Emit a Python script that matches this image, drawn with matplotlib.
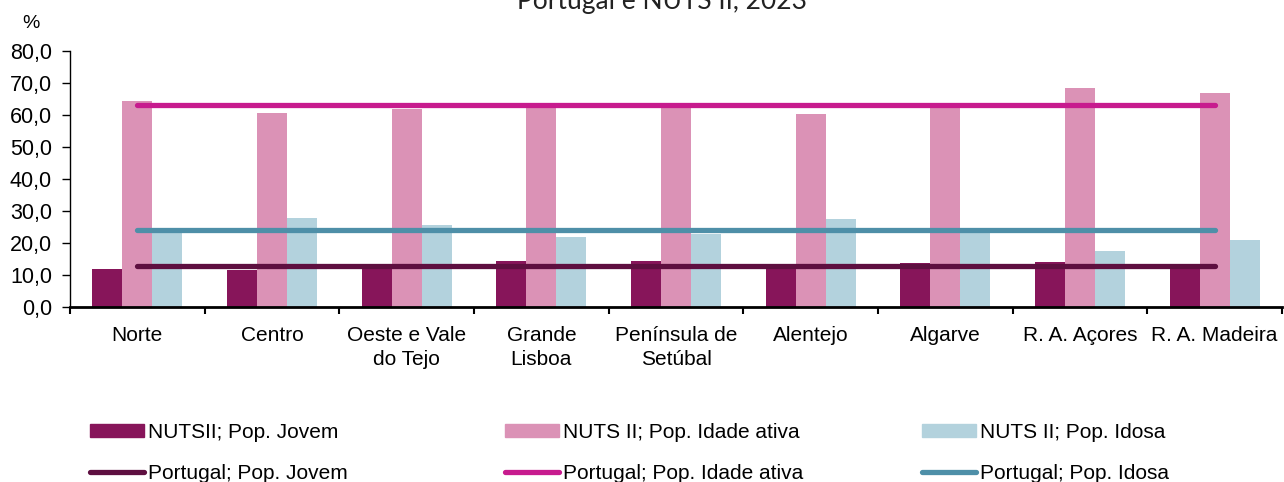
import numpy as np
import matplotlib.pyplot as plt
from matplotlib.lines import Line2D
from matplotlib.patches import Patch

plt.rcParams['font.family'] = ['Liberation Sans', 'DejaVu Sans']

regioes = ['Norte', 'Centro', 'Oeste e Vale\ndo Tejo', 'Grande\nLisboa',
           'Península de\nSetúbal', 'Alentejo', 'Algarve', 'R. A. Açores',
           'R. A. Madeira']
jovem = [11.9, 11.4, 13.0, 14.3, 14.2, 12.6, 13.6, 14.1, 12.5]
ativa = [64.3, 60.4, 61.8, 63.4, 63.3, 60.2, 62.1, 68.2, 66.9]
idosa = [24.1, 27.7, 25.4, 21.7, 22.7, 27.3, 24.2, 17.4, 20.8]
pt_jovem = 12.8
pt_ativa = 63.1
pt_idosa = 24.0

c_jovem, c_ativa, c_idosa = '#87155A', '#DB92B6', '#B3D2DD'
l_jovem, l_ativa, l_idosa = '#5E0F40', '#C71B8E', '#4E8FA8'

fig = plt.figure(figsize=(12.84, 4.82), dpi=100)
ax = fig.add_axes([70/1284, 1-306.7/482, 1212/1284, 256/482])

x = np.arange(len(regioes))
w = 0.223
ax.bar(x - w, jovem, w, color=c_jovem, zorder=2)
ax.bar(x, ativa, w, color=c_ativa, zorder=2)
ax.bar(x + w, idosa, w, color=c_idosa, zorder=2)

# linhas de referência Portugal
for v, c in [(pt_jovem, l_jovem), (pt_ativa, l_ativa), (pt_idosa, l_idosa)]:
    ax.plot(x, [v] * len(x), color=c, lw=3.8, solid_capstyle='round', zorder=3)

ax.set_xlim(-0.5, len(regioes) - 0.5)
ax.set_ylim(0, 80)
ax.set_yticks(np.arange(0, 81, 10))
ax.set_yticklabels([f'{v:.1f}'.replace('.', ',') for v in range(0, 81, 10)], fontsize=15.5)
ax.set_xticks(np.arange(-0.5, len(regioes), 1))
ax.set_xticklabels([])
ax.set_xticks(x, minor=True)
ax.set_xticklabels(regioes, minor=True, fontsize=15, linespacing=1.3)
ax.tick_params(axis='x', which='minor', length=0, pad=14)
ax.tick_params(axis='x', which='major', length=5, width=1.5, direction='out')
ax.tick_params(axis='y', length=6, width=1, pad=7)
for s in ['top', 'right']:
    ax.spines[s].set_visible(False)
ax.spines['bottom'].set_linewidth(2)
ax.spines['left'].set_linewidth(1)

fig.text(31/1284, 1 - 23/482, '%', fontsize=14, ha='center', va='center')
fig.text(662/1284, 1 - 9/482, 'Portugal e NUTS II, 2023', fontsize=19,
         ha='center', va='baseline', color='#222222', family='Lato')

cols = [
    ('NUTSII; Pop. Jovem', c_jovem, 'Portugal; Pop. Jovem', l_jovem, 90),
    ('NUTS II; Pop. Idade ativa', c_ativa, 'Portugal; Pop. Idade ativa', l_ativa, 505),
    ('NUTS II; Pop. Idosa', c_idosa, 'Portugal; Pop. Idosa', l_idosa, 922),
]
for lab1, c1, lab2, c2, xpos in cols:
    h = [Patch(color=c1), Line2D([0], [0], color=c2, lw=3.8, solid_capstyle='round')]
    fig.legend(h, [lab1, lab2], loc='upper left', bbox_to_anchor=(xpos/1284, 1 - 423/482),
               frameon=False, fontsize=15, handlelength=2.6, handleheight=0.55,
               handletextpad=0.2, labelspacing=1.05, borderpad=0, borderaxespad=0)

fig.savefig('out.png', dpi=100)
